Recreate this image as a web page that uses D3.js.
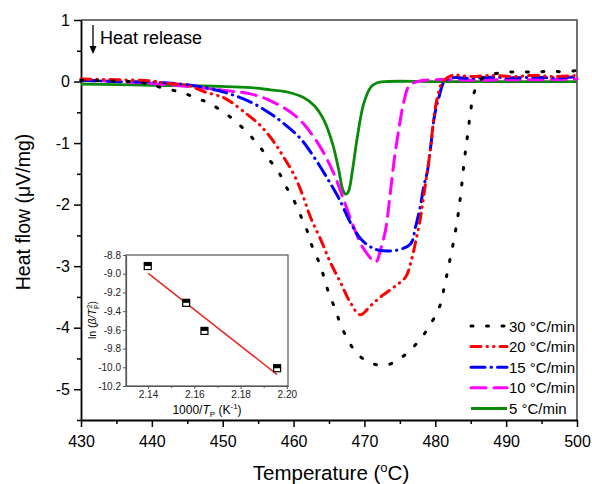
<!DOCTYPE html>
<html><head><meta charset="utf-8">
<script src="https://cdn.jsdelivr.net/npm/d3@7"></script>
<style>body{margin:0;background:#fff}svg{display:block}text{font-family:"Liberation Sans",Arial,sans-serif}</style>
</head><body><svg id="c" width="592" height="484"></svg>
<script>
// ---- data ----
const xTicks = [430,440,450,460,470,480,490,500];
const yTicks = [1,0,-1,-2,-3,-4,-5];
const seriesNames = ["30 °C/min","20 °C/min","15 °C/min","10 °C/min","5 °C/min"];
const seriesColors = ["#000000","#ff0000","#0000ff","#ff00ff","#0a8a0a"];

const t30 = [430,434,438,440,441.6,444,446.1,448.2,451.1,453.4,455.1,456.5,457.9,458.85,460,461,461.9,462.6,463.6,464.3,465,465.9,466.6,467.6,468.8,470.6,473,474.9,476.6,478.2,479.5,480.6,481.3,481.9,482.6,483.2,483.6,484.1,484.4,484.7,485,485.4,486.2,487,488.5,490,492,494,496,498,500];
const v30 = [0.02,0.01,-0.01,-0.05,-0.11,-0.17,-0.26,-0.36,-0.58,-0.82,-1.04,-1.26,-1.47,-1.69,-1.92,-2.18,-2.42,-2.67,-2.94,-3.18,-3.45,-3.70,-3.94,-4.18,-4.40,-4.56,-4.61,-4.51,-4.35,-4.14,-3.91,-3.66,-3.32,-2.99,-2.59,-2.18,-1.82,-1.28,-1.01,-0.74,-0.47,-0.21,0.0,0.08,0.13,0.15,0.16,0.15,0.17,0.16,0.18];

const t20 = [430,435,440,442.1,445,447.5,450.1,451.5,453.4,454.8,456,457.4,458.6,460,461.3,462.4,463.8,465.2,466.6,468,469.4,470.9,472.5,474.4,475.8,476.5,477.2,477.9,478.4,478.9,479.4,479.8,480.3,481,482.4,485,488,491,494,497,500];
const v20 = [0.04,0.03,0.01,-0.03,-0.06,-0.17,-0.26,-0.36,-0.53,-0.66,-0.8,-1.01,-1.23,-1.5,-1.85,-2.21,-2.56,-2.94,-3.26,-3.59,-3.79,-3.64,-3.48,-3.32,-3.18,-2.96,-2.62,-2.22,-1.83,-1.45,-1.01,-0.58,-0.26,-0.01,0.1,0.08,0.1,0.08,0.1,0.08,0.1];

const t15 = [430,435,440,445,448,451.5,454.4,456.7,458.6,461,462.9,464.7,466.4,468.2,469.5,470.9,472,474.6,476.5,477.2,477.9,478.4,478.9,479.4,479.9,480.5,481.3,482.5,485,488,491,494,497,500];
const v15 = [0.02,0.0,-0.01,-0.05,-0.11,-0.22,-0.36,-0.52,-0.68,-0.93,-1.23,-1.56,-1.9,-2.33,-2.56,-2.69,-2.74,-2.74,-2.64,-2.37,-2.02,-1.69,-1.45,-1.01,-0.55,-0.26,0.0,0.06,0.05,0.07,0.06,0.07,0.06,0.08];

const t10 = [430,435,440,445.9,450.6,453.9,456.7,459.6,461.5,463.8,465.7,467.1,468.5,469.9,471.6,472.3,473,473.5,474.2,474.9,475.6,476.3,477.5,480,485,490,495,500];
const v10 = [0.02,0.0,-0.03,-0.09,-0.15,-0.2,-0.31,-0.5,-0.7,-1.07,-1.5,-1.93,-2.37,-2.72,-2.93,-2.72,-2.4,-1.96,-1.28,-0.74,-0.31,-0.07,0.0,0.03,0.02,0.03,0.03,0.04];

const t5 = [430,435,440,445,450,454,456.7,459.1,461.4,462.9,464.3,465.5,466.4,466.9,467.3,467.7,468.3,469,469.9,470.9,471.8,473,480,490,500];
const v5 = [-0.04,-0.05,-0.06,-0.07,-0.08,-0.1,-0.135,-0.17,-0.26,-0.39,-0.63,-1.01,-1.45,-1.74,-1.83,-1.80,-1.45,-0.9,-0.36,-0.09,-0.02,0,0,0,0];

// inset
const insetX = [2.1399,2.1565,2.1644,2.1958];
const insetY = [-8.918,-9.311,-9.611,-10.01];
const fitX = [2.1401,2.1958];
const fitY = [-8.996,-10.078];
const insetXTicks = [2.14,2.16,2.18,2.20];
const insetYTicks = [-8.8,-9.0,-9.2,-9.4,-9.6,-9.8,-10.0,-10.2];

// ---- chart ----
const svg = d3.select("#c");
const L=81,R=577,T=20,B=420;
const x = d3.scaleLinear().domain([430,500]).range([L,R]);
const y = d3.scaleLinear().domain([-5.5,1]).range([B,T]);

// frame (top/right)
svg.append("path").attr("d",`M${L},${T}H${R}V${B}`).attr("fill","none").attr("stroke","#444").attr("stroke-width",1.5);

// axes
const gx = svg.append("g").attr("transform",`translate(0,${B})`);
gx.call(d3.axisBottom(x).tickValues(d3.range(435,500,10)).tickSize(4).tickFormat("").tickSizeOuter(0));
gx.call(g=>g.select(".domain").remove());
const gx2 = svg.append("g").attr("transform",`translate(0,${B})`)
  .call(d3.axisBottom(x).tickValues(xTicks).tickSize(7).tickSizeOuter(0).tickPadding(6).tickFormat(d=>String(d)));
const gy = svg.append("g").attr("transform",`translate(${L},0)`);
gy.call(d3.axisLeft(y).tickValues(d3.range(-5.5,1,1).map(v=>v+0)).tickSize(4).tickFormat("").tickSizeOuter(0));
gy.call(g=>g.select(".domain").remove());
const gy2 = svg.append("g").attr("transform",`translate(${L},0)`)
  .call(d3.axisLeft(y).tickValues(yTicks).tickSize(7).tickSizeOuter(0).tickPadding(4).tickFormat(d=>String(d)));
svg.selectAll(".tick line").attr("stroke","#000").attr("stroke-width",1.5);
[gx2,gy2].forEach(g=>{g.select(".domain").attr("stroke","#000").attr("stroke-width",1.8);
  g.selectAll("text").attr("font-size",16).attr("fill","#000").attr("font-family","Liberation Sans, Arial");});
gx2.selectAll("text").attr("dy","0.85em");

// curves
const dashes = ["2 13.5","10 6 0.5 6 0.5 6","14 6 0.5 6","15 8",null];
const tArr=[t30,t20,t15,t10,t5], vArr=[v30,v20,v15,v10,v5];
const line = d3.line().x(d=>x(d[0])).y(d=>y(d[1])).curve(d3.curveCatmullRom.alpha(0.5));
const order=[4,3,2,1,0];
order.forEach(i=>{
  const pts = tArr[i].map((t,k)=>[t,vArr[i][k]]);
  const p = svg.append("path").attr("d",line(pts)).attr("fill","none")
    .attr("stroke",seriesColors[i]).attr("stroke-width",i===4?2.8:3).attr("stroke-linecap",i===4?"butt":"round");
  if(dashes[i]) p.attr("stroke-dasharray",dashes[i]);
});

// legend
const lg = svg.append("g");
seriesNames.forEach((n,i)=>{
  const yy = 326 + i*20.6;
  const l = lg.append("line").attr("x1",471).attr("x2",507).attr("y1",yy).attr("y2",yy)
    .attr("stroke",seriesColors[i]).attr("stroke-width",3).attr("stroke-linecap",i===4?"butt":"round");
  if(dashes[i]) l.attr("stroke-dasharray",dashes[i]);
  lg.append("text").attr("x",509).attr("y",yy+5.5).attr("font-size",15).text(n);
});

// heat release annotation
svg.append("line").attr("x1",93).attr("x2",93).attr("y1",25).attr("y2",48).attr("stroke","#000").attr("stroke-width",1.3);
svg.append("path").attr("d","M89.5,46 L96.5,46 L93,54 Z").attr("fill","#000");
svg.append("text").attr("x",100).attr("y",44).attr("font-size",18).text("Heat release");

// axis titles
const xt = svg.append("text").attr("x",331).attr("y",480).attr("text-anchor","middle").attr("font-size",20.5);
xt.append("tspan").text("Temperature (");
xt.append("tspan").attr("font-size",13).attr("dy",-8).text("o");
xt.append("tspan").attr("dy",8).text("C)");
svg.append("text").attr("transform","translate(30,212) rotate(-90)").attr("text-anchor","middle").attr("font-size",19.5)
  .text("Heat flow (\u03bcV/mg)");

// ---- inset ----
const iL=126,iR=288,iT=255,iB=386;
const ix = d3.scaleLinear().domain([2.1305,2.2005]).range([iL,iR]);
const iy = d3.scaleLinear().domain([-10.2,-8.8]).range([iB,iT]);
const ig = svg.append("g");
ig.append("rect").attr("x",iL).attr("y",iT).attr("width",iR-iL).attr("height",iB-iT).attr("fill","#fff").attr("stroke","#555").attr("stroke-width",1.2);
const igx = ig.append("g").attr("transform",`translate(0,${iB})`)
  .call(d3.axisBottom(ix).tickValues(insetXTicks).tickSize(3).tickSizeOuter(0).tickPadding(2).tickFormat(d3.format(".2f")));
const igxm = ig.append("g").attr("transform",`translate(0,${iB})`)
  .call(d3.axisBottom(ix).tickValues([2.15,2.17,2.19]).tickSize(2).tickSizeOuter(0).tickFormat(""));
const igy = ig.append("g").attr("transform",`translate(${iL},0)`)
  .call(d3.axisLeft(iy).tickValues(insetYTicks).tickSize(3).tickSizeOuter(0).tickPadding(2).tickFormat(d=>d.toFixed(1).replace("\u2212","-")));
[igx,igxm,igy].forEach(g=>{g.select(".domain").attr("stroke","#555").attr("stroke-width",1.2);
  g.selectAll(".tick line").attr("stroke","#555").attr("stroke-width",1);
  g.selectAll("text").attr("font-size",10).attr("fill","#222");});
ig.append("line").attr("x1",ix(fitX[0])).attr("y1",iy(fitY[0])).attr("x2",ix(fitX[1])).attr("y2",iy(fitY[1]))
  .attr("stroke","#e8251f").attr("stroke-width",1.4);
insetX.forEach((v,k)=>{
  const cx=ix(v), cy=iy(insetY[k]);
  ig.append("rect").attr("x",cx-3.5).attr("y",cy-3.5).attr("width",7).attr("height",7).attr("fill","#fff").attr("stroke","#000").attr("stroke-width",1.2);
  ig.append("rect").attr("x",cx-3.5).attr("y",cy-3.5).attr("width",7).attr("height",3.5).attr("fill","#000");
});
const ixt = ig.append("text").attr("x",207).attr("y",414).attr("text-anchor","middle").attr("font-size",12);
ixt.append("tspan").text("1000/");
ixt.append("tspan").attr("font-style","italic").text("T");
ixt.append("tspan").attr("font-size",8).attr("dy",3).text("P");
ixt.append("tspan").attr("dy",-3).text(" (K");
ixt.append("tspan").attr("font-size",8).attr("dy",-5).text("-1");
ixt.append("tspan").attr("dy",5).text(")");
const iyt = ig.append("text").attr("transform","translate(96,320) rotate(-90)").attr("text-anchor","middle").attr("font-size",10.5);
iyt.append("tspan").text("ln (");
iyt.append("tspan").attr("font-style","italic").text("\u03b2/T");
iyt.append("tspan").attr("font-size",7).attr("dy",2.5).text("P");
iyt.append("tspan").attr("font-size",7).attr("dy",-7).attr("dx",-4).text("2");
iyt.append("tspan").attr("dy",4.5).text(")");
</script></body></html>
